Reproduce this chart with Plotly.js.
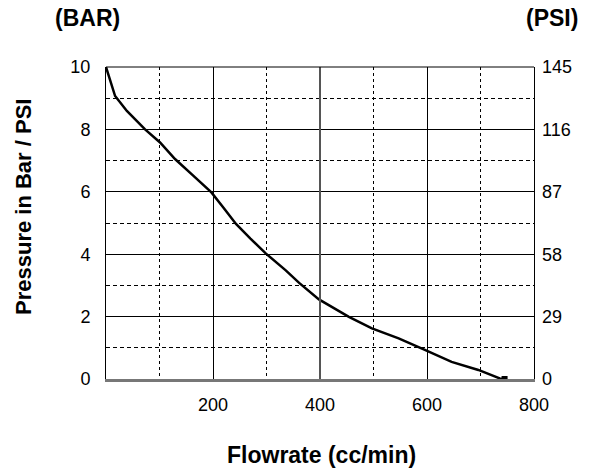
<!DOCTYPE html>
<html>
<head>
<meta charset="utf-8">
<script src="https://cdn.plot.ly/plotly-3.0.1.min.js"></script>
<style>html,body{margin:0;padding:0;background:#fff;}#chart{width:589px;height:470px;}</style>
</head>
<body>
<div id="chart"></div>
<script>
// Flowrate (cc/min) vs pressure (bar)
const flowrate = [0, 8, 17, 39, 73, 101, 129, 163, 197, 220, 243, 270, 299, 336, 361, 398, 454, 497, 547, 596, 646, 696, 736, 745];
const pressureBar = [10, 9.55, 9.07, 8.59, 8.0, 7.58, 7.05, 6.52, 5.98, 5.48, 4.97, 4.5, 4.02, 3.48, 3.08, 2.55, 1.99, 1.62, 1.30, 0.93, 0.55, 0.29, 0.02, 0];
const xTicks = [200, 400, 600, 800];
const barTicks = [0, 2, 4, 6, 8, 10];
const psiTicks = [0, 29, 58, 87, 116, 145];

const tickFont = {family: "'Liberation Sans', Arial, sans-serif", size: 18, color: '#000'};
const titleFont = {family: "'Liberation Sans', Arial, sans-serif", size: 23, color: '#000', weight: 'bold'};
const yTitleFont = {family: "'Liberation Sans', Arial, sans-serif", size: 22, color: '#000', weight: 'bold'};

const traces = [
  {x: flowrate, y: pressureBar, type: 'scatter', mode: 'lines', line: {color: '#000', width: 2.5}, hoverinfo: 'skip', showlegend: false},
  {x: [flowrate[flowrate.length - 1]], y: [pressureBar[pressureBar.length - 1]], type: 'scatter', mode: 'markers', marker: {symbol: 'square', color: '#000', size: 6}, showlegend: false, hoverinfo: 'skip', cliponaxis: false},
  {x: [0, 800], y: [0, 145], yaxis: 'y2', type: 'scatter', mode: 'none', showlegend: false, hoverinfo: 'skip'}
];

const layout = {
  width: 589, height: 470,
  margin: {l: 106, r: 55, t: 67, b: 91},
  paper_bgcolor: '#fff', plot_bgcolor: '#fff',
  showlegend: false,
  xaxis: {
    range: [0, 800], tickvals: xTicks, ticktext: xTicks.map(String),
    tickfont: tickFont, ticks: '', ticklabelstandoff: 7,
    showgrid: true, gridcolor: '#000', gridwidth: 1,
    minor: {dtick: 100, tick0: 0, showgrid: true, gridcolor: '#000', gridwidth: 1, griddash: '3px,3px'},
    showline: true, linecolor: '#777', linewidth: 3, zeroline: false, fixedrange: true
  },
  yaxis: {
    range: [0, 10], tickvals: barTicks, ticktext: barTicks.map(String),
    tickfont: tickFont, ticks: '', ticklabelstandoff: 11,
    showgrid: true, gridcolor: '#000', gridwidth: 1,
    minor: {dtick: 1, tick0: 0, showgrid: true, gridcolor: '#000', gridwidth: 1, griddash: '4px,3px'},
    showline: true, mirror: true, linecolor: '#000', linewidth: 1, zeroline: false, fixedrange: true
  },
  yaxis2: {
    overlaying: 'y', side: 'right', range: [0, 145], tickvals: psiTicks, ticktext: psiTicks.map(String),
    tickfont: tickFont, ticks: '', ticklabelstandoff: 7, showgrid: false, zeroline: false, showline: false, fixedrange: true
  },
  shapes: [
    {type: 'line', xref: 'x', yref: 'paper', x0: 400, x1: 400, y0: 0, y1: 1, line: {color: '#555', width: 2}},
    {type: 'line', xref: 'paper', yref: 'paper', x0: 0, x1: 1, y0: 1, y1: 1, line: {color: '#000', width: 1}}
  ],
  annotations: [
    {text: '(BAR)', xref: 'paper', yref: 'paper', x: (87 - 106) / 428, y: 1 + (67 - 18) / 312, xanchor: 'center', yanchor: 'middle', showarrow: false, font: titleFont},
    {text: '(PSI)', xref: 'paper', yref: 'paper', x: (552 - 106) / 428, y: 1 + (67 - 18) / 312, xanchor: 'center', yanchor: 'middle', showarrow: false, font: titleFont},
    {text: 'Pressure in Bar / PSI', xref: 'paper', yref: 'paper', x: (23 - 106) / 428, y: 1 - (207 - 67) / 312, xanchor: 'center', yanchor: 'middle', textangle: -90, showarrow: false, font: yTitleFont},
    {text: 'Flowrate (cc/min)', xref: 'paper', yref: 'paper', x: (321 - 106) / 428, y: -(455 - 379) / 312, xanchor: 'center', yanchor: 'middle', showarrow: false, font: titleFont}
  ]
};

Plotly.newPlot('chart', traces, layout, {staticPlot: true, displayModeBar: false});
</script>
</body>
</html>
